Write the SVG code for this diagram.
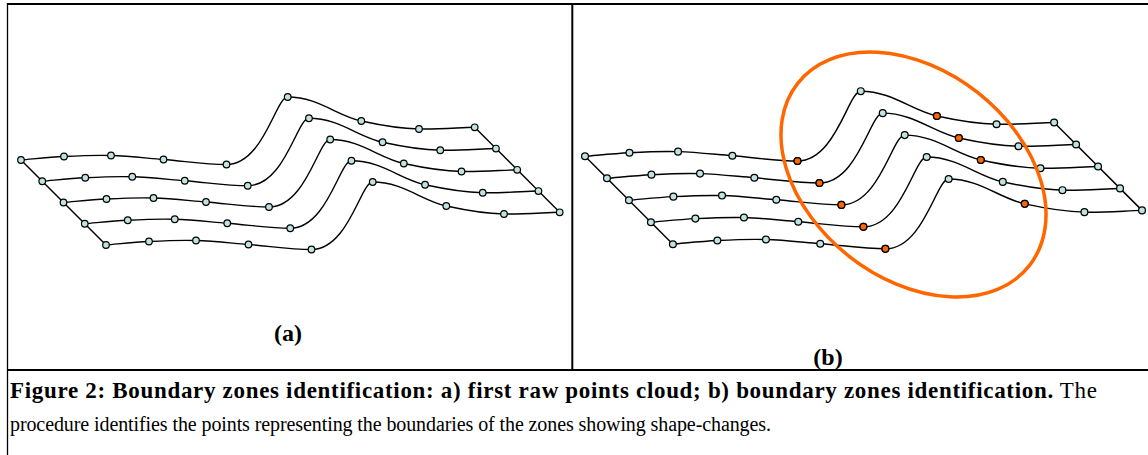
<svg xmlns="http://www.w3.org/2000/svg" width="1148" height="455" viewBox="0 0 1148 455">
<style>
.frame{stroke:#000;fill:none}
.crv{fill:none;stroke:#000;stroke-width:1.4}
.edge{stroke:#000;stroke-width:1.4}
.dot{fill:#BFE3E3;stroke:#000;stroke-width:1.2}
.hot{fill:#FF6600;stroke:#000;stroke-width:1.2}
.zone{fill:none;stroke:#FF6600;stroke-width:3.5}
.cap{font-family:"Liberation Serif","Times New Roman",serif;fill:#000}
.lbl{font-family:"Liberation Serif","Times New Roman",serif;font-size:24px;font-weight:bold;fill:#000;text-anchor:middle}
</style>
<defs>
<path id="crv" class="crv" d="M21,160 C35,158.8 49.7,157.2 64,156.5 C79.7,155.7 95.3,155 111,155.5 C128.5,156 146,158.1 163.5,159.5 C184.5,161.1 205.5,164.5 226.5,164.5 C263.5,164.5 275.7,97 287.7,97 C317.7,97 336.8,115.6 361.3,121 C380.5,125.2 399.8,128.6 419,129 C437.6,129.4 456.1,127.9 474.7,127.3"/>
<g id="rowdots">
<circle class="dot" cx="21" cy="160" r="3.3"/>
<circle class="dot" cx="64" cy="156.5" r="3.3"/>
<circle class="dot" cx="111" cy="155.5" r="3.3"/>
<circle class="dot" cx="163.5" cy="159.5" r="3.3"/>
<circle class="dot" cx="226.5" cy="164.5" r="3.3"/>
<circle class="dot" cx="287.7" cy="97" r="3.3"/>
<circle class="dot" cx="361.3" cy="121" r="3.3"/>
<circle class="dot" cx="419" cy="129" r="3.3"/>
<circle class="dot" cx="474.7" cy="127.3" r="3.3"/>
</g>
<g id="sheet">
<g id="sheet-connectors">
<line class="edge" x1="21" y1="160" x2="106" y2="245"/>
<line class="edge" x1="474.7" y1="127.3" x2="559.7" y2="212.3"/>
<use href="#crv"/>
<use href="#crv" transform="translate(21.25,21.25)"/>
<use href="#crv" transform="translate(42.5,42.5)"/>
<use href="#crv" transform="translate(63.75,63.75)"/>
<use href="#crv" transform="translate(85,85)"/>
</g>
<g id="sheet-nodes">
<use href="#rowdots"/>
<use href="#rowdots" transform="translate(21.25,21.25)"/>
<use href="#rowdots" transform="translate(42.5,42.5)"/>
<use href="#rowdots" transform="translate(63.75,63.75)"/>
<use href="#rowdots" transform="translate(85,85)"/>
</g>
</g>
</defs>

<g id="frame">
<line class="frame" x1="7" y1="4" x2="1148" y2="4" stroke-width="2"/>
<line class="frame" x1="7.5" y1="3" x2="7.5" y2="455" stroke-width="1.3"/>
<line class="frame" x1="572.3" y1="4" x2="572.3" y2="370" stroke-width="2"/>
<line class="frame" x1="7" y1="370" x2="1148" y2="370" stroke-width="2"/>
</g>

<g id="panel-a">
<use href="#sheet"/>
<text class="lbl" x="288" y="341">(a)</text>
</g>

<g id="panel-b">
<g transform="translate(585,156.3) scale(1.034) translate(-21,-160)">
<use href="#sheet"/>
<g id="boundary-nodes">
<circle class="hot" cx="226.5" cy="164.5" r="3.3"/>
<circle class="hot" cx="247.75" cy="185.75" r="3.3"/>
<circle class="hot" cx="269" cy="207" r="3.3"/>
<circle class="hot" cx="290.25" cy="228.25" r="3.3"/>
<circle class="hot" cx="311.5" cy="249.5" r="3.3"/>
<circle class="hot" cx="361.3" cy="121" r="3.3"/>
<circle class="hot" cx="382.55" cy="142.25" r="3.3"/>
<circle class="hot" cx="403.8" cy="163.5" r="3.3"/>
<circle class="hot" cx="446.3" cy="206" r="3.3"/>
</g>
</g>
<ellipse id="zone" class="zone" cx="913.5" cy="174.5" rx="147.4" ry="104.1" transform="rotate(38.2 913.5 174.5)"/>
<text class="lbl" x="828" y="365">(b)</text>
</g>

<g id="caption">
<text class="cap" x="10" y="398" font-size="23" textLength="1087" lengthAdjust="spacing"><tspan font-weight="bold">Figure 2: Boundary zones identification: a) first raw points cloud; b) boundary zones identification.</tspan> The</text>
<text class="cap" x="10" y="431" font-size="20" textLength="761" lengthAdjust="spacing">procedure identifies the points representing the boundaries of the zones showing shape-changes.</text>
</g>
</svg>
